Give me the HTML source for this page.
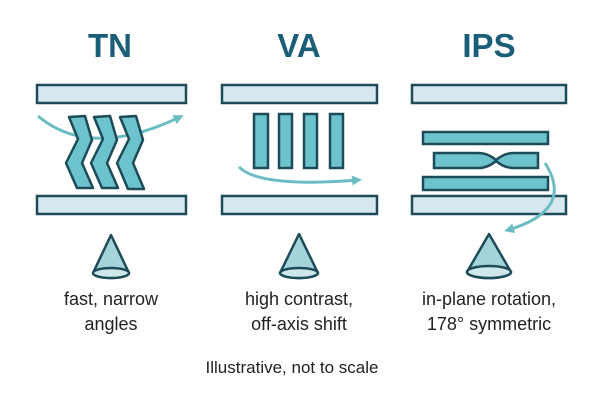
<!DOCTYPE html>
<html><head><meta charset="utf-8"><style>
html,body{margin:0;padding:0;background:#fff;}
svg{display:block;}
</style></head><body>
<svg width="600" height="400" viewBox="0 0 600 400" xmlns="http://www.w3.org/2000/svg">
<defs>
<marker id="ah" markerWidth="10" markerHeight="10" refX="6" refY="5" orient="auto" markerUnits="userSpaceOnUse">
<path d="M0,0 L10,5 L0,10 Z" fill="#6cbcc4"/>
</marker>
</defs>
<g font-family="Liberation Sans, sans-serif" font-weight="bold" font-size="33" fill="#1b5e78" text-anchor="middle">
<text x="110" y="57">TN</text>
<text x="299" y="57">VA</text>
<text x="489" y="57">IPS</text>
</g>
<g fill="#d6e7ee" stroke="#1d4c58" stroke-width="2.5">
<rect x="37" y="85" width="149" height="18"/>
<rect x="37" y="196" width="149" height="18"/>
<rect x="222" y="85" width="155" height="18"/>
<rect x="222" y="196" width="155" height="18"/>
<rect x="412" y="85" width="154" height="18"/>
<rect x="412" y="196" width="154" height="18"/>
</g>
<!-- TN -->
<path d="M38,116 Q90,160 180,117" fill="none" stroke="#6cbcc4" stroke-width="3" marker-end="url(#ah)"/>
<g fill="#6cc3cd" stroke="#1d4c58" stroke-width="2.5" stroke-linejoin="round">
<path d="M69,117 L85,116 L92,140 L82,163 L93,188 L77,188 L66,163 L78,139 Z"/>
<path d="M94,117 L110,116 L117,140 L107,163 L118,188 L102,188 L91,163 L103,139 Z"/>
<path d="M120,117 L136,116 L143,140 L133,163 L144,189 L128,189 L117,163 L129,139 Z"/>
</g>
<!-- VA -->
<g fill="#6cc3cd" stroke="#1d4c58" stroke-width="2.5">
<rect x="254" y="114" width="14" height="54"/>
<rect x="279" y="114" width="13" height="54"/>
<rect x="304" y="114" width="13" height="54"/>
<rect x="330" y="114" width="13" height="54"/>
</g>
<path d="M239,167 Q260,188 358,180" fill="none" stroke="#6cbcc4" stroke-width="3" marker-end="url(#ah)"/>
<!-- IPS -->
<g fill="#6cc3cd" stroke="#1d4c58" stroke-width="2.5">
<rect x="423" y="132" width="125" height="12"/>
<path d="M434,153 L478,153 Q488,153 496,160 Q504,153 514,153 L538,153 L538,168 L514,168 Q504,168 496,161 Q488,168 478,168 L434,168 Z"/>
<rect x="423" y="177" width="125" height="13"/>
</g>
<path d="M545,163 Q575,210 508,230" fill="none" stroke="#6cbcc4" stroke-width="3" marker-end="url(#ah)"/>
<!-- cones -->
<g fill="#a4d4da" stroke="#1d4c58" stroke-width="2.5" stroke-linejoin="round">
<path d="M111,235 L93,273 A18,5 0 0 0 129,273 Z"/>
<ellipse cx="111" cy="273" rx="18" ry="5" fill="#cde7ea"/>
<path d="M299,234 L280,273 A19,5 0 0 0 318,273 Z"/>
<ellipse cx="299" cy="273" rx="19" ry="5" fill="#cde7ea"/>
<path d="M489,234 L467,272 A22,6 0 0 0 511,272 Z"/>
<ellipse cx="489" cy="272" rx="22" ry="6" fill="#cde7ea"/>
</g>
<g font-family="Liberation Sans, sans-serif" font-size="18" fill="#222" text-anchor="middle">
<text x="111" y="305">fast, narrow</text>
<text x="111" y="330">angles</text>
<text x="299" y="305">high contrast,</text>
<text x="299" y="330">off-axis shift</text>
<text x="489" y="305">in-plane rotation,</text>
<text x="489" y="330">178° symmetric</text>
<text x="292" y="373" font-size="17">Illustrative, not to scale</text>
</g>
</svg>
</body></html>
